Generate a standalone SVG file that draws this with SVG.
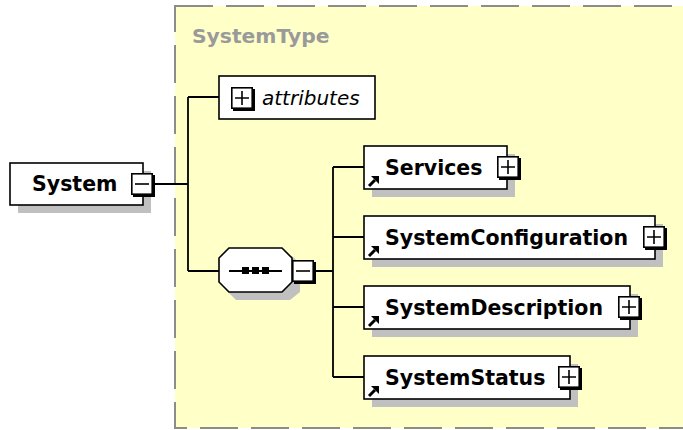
<svg xmlns="http://www.w3.org/2000/svg" width="683" height="430" viewBox="0 0 683 430">
<defs>
<style>
.frame{fill:#ffffc8;stroke:#8c8c8c;stroke-width:2;stroke-dasharray:38 13}
.box{fill:#fff;stroke:#000;stroke-width:1.6}
.sh{fill:#c0c0c0}
.lbl{font-family:"DejaVu Sans",Verdana,sans-serif;font-weight:bold;font-size:20.5px;fill:#000}
.it{font-family:"DejaVu Sans",Verdana,sans-serif;font-style:italic;font-size:20px;fill:#000}
.title{font-family:"DejaVu Sans",Verdana,sans-serif;font-weight:bold;font-size:20.3px;fill:#9a9a9a}
.ln{fill:none;stroke:#000;stroke-width:1.8}
.ic{fill:none;stroke:#000;stroke-width:1.6}
</style>
<g id="plus">
<rect x="2" y="2" width="22" height="22" fill="#000"/>
<rect x="0.8" y="0.8" width="20.4" height="20.4" fill="#fff" stroke="#000" stroke-width="1.6"/>
<path d="M4,11 H18 M11,4 V18" class="ic"/>
</g>
<g id="minus">
<rect x="2" y="2" width="22" height="22" fill="#000"/>
<rect x="0.8" y="0.8" width="20.4" height="20.4" fill="#fff" stroke="#000" stroke-width="1.6"/>
<path d="M4,11 H18" class="ic"/>
</g>
<g id="ref">
<path d="M1,10 L7,4" stroke="#000" stroke-width="3"/>
<polygon points="3,0 11,0 11,8" fill="#000"/>
</g>
</defs>
<rect x="0" y="0" width="683" height="430" fill="#fff"/>
<rect class="frame" x="175" y="6" width="560" height="422"/>
<text class="title" x="192" y="43">SystemType</text>

<g id="connectors">
<path class="ln" d="M153,184 H188 M188,97 V271 M188,97 H219 M188,271 H219"/>
<path class="ln" d="M316,271 H333 M333,167 V377 M333,167 H364 M333,237 H364 M333,307 H364 M333,377 H364"/>
</g>

<g id="node-System">
<rect class="sh" x="18" y="171" width="133" height="42"/>
<rect class="box" x="10" y="163" width="133" height="42"/>
<text class="lbl" x="32" y="191">System</text>
<use href="#minus" x="131" y="173"/>
</g>

<g id="node-attributes">
<rect class="box" x="219" y="76" width="156" height="43"/>
<use href="#plus" x="231" y="87"/>
<text class="it" x="262" y="105">attributes</text>
</g>

<g id="node-sequence">
<polygon class="sh" points="238,256 292,256 300,264 300,292 290,300 236,300 226,290 226,266" />
<polygon points="229,248 282,248 292,258 292,282 282,292 229,292 219,282 219,258" fill="#fff" stroke="#000" stroke-width="1.6"/>
<path d="M229,271 H282" class="ln"/>
<rect x="242" y="267" width="7" height="7" fill="#000"/>
<rect x="252" y="267" width="7" height="7" fill="#000"/>
<rect x="262" y="267" width="7" height="7" fill="#000"/>
<use href="#minus" x="292" y="260"/>
</g>

<g id="node-Services">
<rect class="sh" x="372" y="154" width="143" height="43"/>
<rect class="box" x="364" y="146" width="143" height="43"/>
<use href="#ref" x="368" y="176"/>
<text class="lbl" x="385" y="175">Services</text>
<use href="#plus" x="497" y="156"/>
</g>

<g id="node-SystemConfiguration">
<rect class="sh" x="372" y="224" width="291" height="43"/>
<rect class="box" x="364" y="216" width="291" height="43"/>
<use href="#ref" x="368" y="246"/>
<text class="lbl" x="385" y="245">SystemConfiguration</text>
<use href="#plus" x="643" y="226"/>
</g>

<g id="node-SystemDescription">
<rect class="sh" x="372" y="294" width="266" height="43"/>
<rect class="box" x="364" y="286" width="266" height="43"/>
<use href="#ref" x="368" y="316"/>
<text class="lbl" x="385" y="315">SystemDescription</text>
<use href="#plus" x="618" y="296"/>
</g>

<g id="node-SystemStatus">
<rect class="sh" x="372" y="364" width="206" height="43"/>
<rect class="box" x="364" y="356" width="206" height="43"/>
<use href="#ref" x="368" y="386"/>
<text class="lbl" x="385" y="385">SystemStatus</text>
<use href="#plus" x="558" y="366"/>
</g>
</svg>
